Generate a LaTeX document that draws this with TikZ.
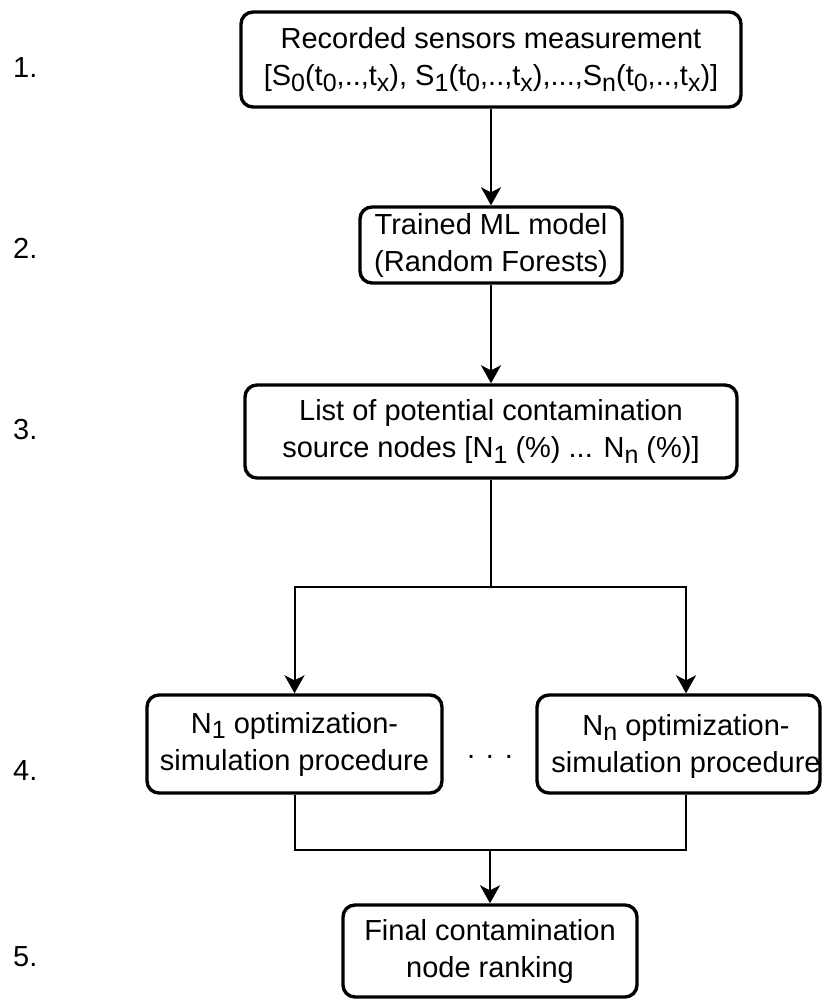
\documentclass[tikz,border=0pt]{standalone}
\usepackage{fontspec}
\setmainfont{Liberation Sans}
\usetikzlibrary{arrows.meta,calc}

% lowered index, a little smaller than the running text
\newcommand\lowidx[1]{\raisebox{-0.2em}{\fontsize{25}{25}\selectfont #1}}

\tikzset{
  stepbox/.style={draw=black, line width=3.4pt, rounded corners=12pt, fill=white,
    align=center, inner sep=0pt, font=\fontsize{29}{37}\selectfont},
  plain/.style={align=center, inner sep=0pt, font=\fontsize{29}{37}\selectfont},
  steplabel/.style={anchor=west, inner sep=0pt, font=\fontsize{29}{33}\selectfont},
  link/.style={draw=black, line width=2pt},
  arr/.style={link, -{Stealth[length=18pt, width=20pt, inset=5pt]}},
}

\begin{document}
\begin{tikzpicture}[x=1pt, y=-1pt]
  \useasboundingbox (0,0) rectangle (822,1000);

  % process boxes
  \node[stepbox, minimum width=500pt, minimum height=95pt] (n1) at (491,59.5)
    {Recorded sensors measurement\\{}%
     {[}S\lowidx{0}(t\lowidx{0},..,t\lowidx{x}), S\lowidx{1}(t\lowidx{0},..,t\lowidx{x}),...,S\lowidx{n}(t\lowidx{0},..,t\lowidx{x})]};
  \node[stepbox, minimum width=262pt, minimum height=76pt] (n2) at (491,245)
    {Trained ML model\\(Random Forests)};
  \node[stepbox, minimum width=492pt, minimum height=93pt] (n3) at (491,431.5)
    {List of potential contamination\\source nodes {[}N\lowidx{1} (\%) ... N\lowidx{n} (\%)]};
  \node[stepbox, minimum width=295pt, minimum height=98pt] (n4a) at (294.5,744)
    {N\lowidx{1} optimization-\\simulation procedure};
  \node[stepbox, minimum width=283pt, minimum height=98pt] (n4b) at (678.5,744) {};
  \node[plain] (n4bt) at (686,746) {N\lowidx{n} optimization-\\simulation procedure};
  \node[plain] (dots) at (490,757) {. . .};
  \node[stepbox, minimum width=294pt, minimum height=92pt] (n5) at (490,951)
    {Final contamination\\node ranking};

  % step numbers
  \node[steplabel] (l1) at (13,68) {1.};
  \node[steplabel] (l2) at (13,248) {2.};
  \node[steplabel] (l3) at (13,430) {3.};
  \node[steplabel] (l4) at (13,771) {4.};
  \node[steplabel] (l5) at (13,957) {5.};

  % split and merge points
  \coordinate (split) at (491,587);
  \coordinate (merge) at (490,850);

  % connectors
  \draw[arr] (n1) -- (n2);
  \draw[arr] (n2) -- (n3);
  \draw[link] (n3) -- (split);
  \draw[arr] (split) -| (n4a.north);
  \draw[arr] (split) -| (n4bt |- n4b.north);
  \draw[link] (n4a.south) |- (merge);
  \draw[link] (n4bt |- n4b.south) |- (merge);
  \draw[arr] (merge) -- (n5.north);
\end{tikzpicture}
\end{document}
